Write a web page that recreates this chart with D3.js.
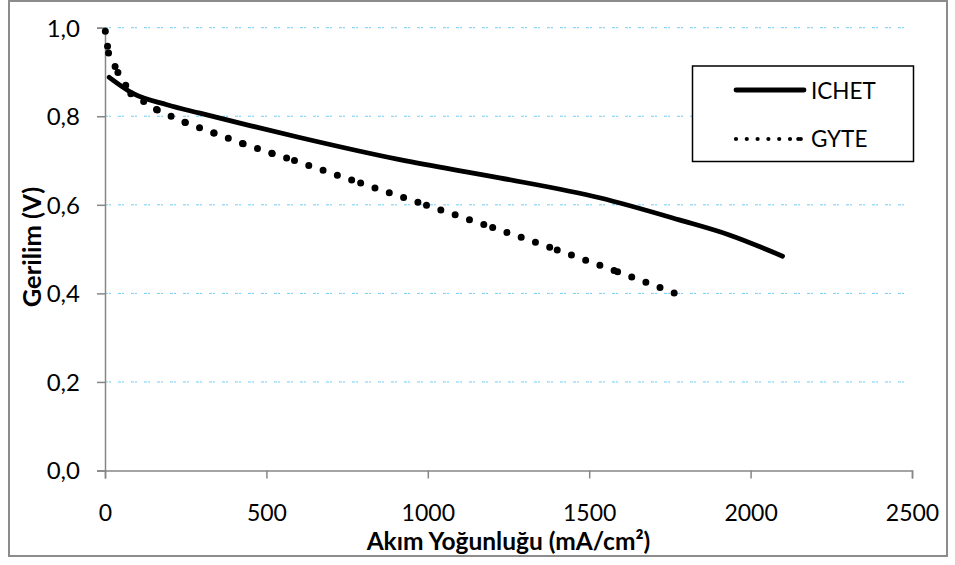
<!DOCTYPE html>
<html>
<head>
<meta charset="utf-8">
<script src="https://cdn.jsdelivr.net/npm/d3@7"></script>
<style>
  html, body { margin: 0; padding: 0; background: #fff; }
  svg { display: block; }
  text { font-family: Lato, "Open Sans", sans-serif; fill: #000; }
</style>
</head>
<body>
<svg id="chart" width="955" height="565"></svg>
<script>
// Current density (mA/cm²) and cell voltage (V) for each cell
const ichetCurrent = [13, 88, 192, 294, 449, 603, 913, 1222, 1532, 1779, 1934, 2099];
const ichetVoltage = [0.888, 0.851, 0.826, 0.807, 0.779, 0.752, 0.702, 0.661, 0.616, 0.566, 0.532, 0.484];

const gyteCurrent = [1, 11, 40, 80, 162, 249, 338, 428, 518, 587, 792, 996, 1201, 1401, 1588, 1767];
const gyteVoltage = [0.992, 0.943, 0.899, 0.851, 0.814, 0.786, 0.762, 0.738, 0.716, 0.700, 0.649, 0.599, 0.549, 0.498, 0.449, 0.400];

const xTicks = [0, 500, 1000, 1500, 2000, 2500];
const yTicks = [0, 0.2, 0.4, 0.6, 0.8, 1.0];
const seriesNames = ["ICHET", "GYTE"];
const xTitle = "Akım Yoğunluğu (mA/cm²)";
const yTitle = "Gerilim (V)";

const svg = d3.select("#chart");
const plot = { left: 105, right: 912, top: 27.7, bottom: 470.5 };

const x = d3.scaleLinear().domain([0, 2500]).range([plot.left, plot.right]);
const y = d3.scaleLinear().domain([0, 1]).range([plot.bottom, plot.top]);
const fmt = v => d3.format(".1f")(v).replace(".", ",");

// outer chart frame
svg.append("rect")
  .attr("x", 9).attr("y", 1).attr("width", 938).attr("height", 555)
  .attr("fill", "none").attr("stroke", "#8c8c8c").attr("stroke-width", 2);

// horizontal gridlines
svg.append("g")
  .selectAll("line")
  .data(yTicks.filter(t => t > 0))
  .join("line")
  .attr("x1", plot.left).attr("x2", plot.right - 2)
  .attr("y1", d => y(d)).attr("y2", d => y(d))
  .attr("stroke", "#6fcdf4").attr("stroke-width", 1)
  .attr("stroke-dasharray", "3 1 2 7");

// y axis
const yAxis = svg.append("g")
  .attr("transform", `translate(${plot.left},0)`)
  .call(d3.axisLeft(y).tickValues(yTicks).tickFormat(fmt).tickSize(8).tickPadding(17));
yAxis.select(".domain").attr("stroke", "#868686").attr("stroke-width", 1.5);
yAxis.selectAll(".tick line").attr("stroke", "#868686").attr("stroke-width", 1.5);
yAxis.selectAll(".tick text")
  .attr("font-family", "Lato").attr("font-size", 24).attr("fill", "#000")
  .attr("dy", "0.35em");

// x axis
const xAxis = svg.append("g")
  .attr("transform", `translate(0,${plot.bottom})`)
  .call(d3.axisBottom(x).tickValues(xTicks).tickFormat(d3.format("d")).tickSize(8).tickPadding(0));
xAxis.select(".domain").attr("stroke", "#868686").attr("stroke-width", 1.5);
xAxis.selectAll(".tick text")
  .attr("font-family", "Lato").attr("font-size", 23).attr("fill", "#000")
  .attr("y", 0).attr("dy", 0)
  .attr("transform", "translate(0,50.5)");
xAxis.selectAll(".tick line").attr("stroke", "#868686").attr("stroke-width", 1.5);

// axis titles
svg.append("text")
  .attr("x", (plot.left + plot.right) / 2).attr("y", 549.5)
  .attr("text-anchor", "middle")
  .attr("font-size", 24.5).attr("font-weight", "bold")
  .text(xTitle);

svg.append("text")
  .attr("transform", "translate(41,247) rotate(-90)")
  .attr("text-anchor", "middle")
  .attr("font-size", 25.5).attr("font-weight", "bold")
  .text(yTitle);

// ICHET: solid line
const ichet = ichetCurrent.map((c, i) => [c, ichetVoltage[i]]);
svg.append("path")
  .datum(ichet)
  .attr("d", d3.line().curve(d3.curveMonotoneX).x(d => x(d[0])).y(d => y(d[1])))
  .attr("fill", "none").attr("stroke", "#000")
  .attr("stroke-width", 4.8)
  .attr("stroke-linecap", "round").attr("stroke-linejoin", "round");

// GYTE: round-dot line, the dot pattern starts anew on every segment
const gyte = gyteCurrent.map((c, i) => [c, gyteVoltage[i]]);
const segs = d3.pairs(gyte);
svg.append("g")
  .selectAll("path")
  .data(segs)
  .join("path")
  .attr("d", d => d3.line().x(p => x(p[0])).y(p => y(p[1]))(d))
  .attr("fill", "none").attr("stroke", "#000")
  .attr("stroke-width", 7)
  .attr("stroke-linecap", "round")
  .attr("stroke-dasharray", "0 15.1");

// legend
const lg = svg.append("g");
lg.append("rect")
  .attr("x", 692.5).attr("y", 66).attr("width", 221).attr("height", 95.5)
  .attr("fill", "#fff").attr("stroke", "#000").attr("stroke-width", 1.5);
lg.append("line")
  .attr("x1", 736).attr("x2", 804).attr("y1", 90).attr("y2", 90)
  .attr("stroke", "#000").attr("stroke-width", 4.8).attr("stroke-linecap", "round");
lg.append("line")
  .attr("x1", 736).attr("x2", 801).attr("y1", 139).attr("y2", 139)
  .attr("stroke", "#000").attr("stroke-width", 4.2).attr("stroke-linecap", "round")
  .attr("stroke-dasharray", "0 10.8");
lg.append("circle").attr("cx", 798.3).attr("cy", 139).attr("r", 2.1);
lg.selectAll("text.lbl")
  .data(seriesNames)
  .join("text")
  .attr("class", "lbl")
  .attr("x", 811).attr("y", (d, i) => i === 0 ? 99 : 147)
  .attr("font-size", 22.5)
  .text(d => d);
</script>
</body>
</html>
